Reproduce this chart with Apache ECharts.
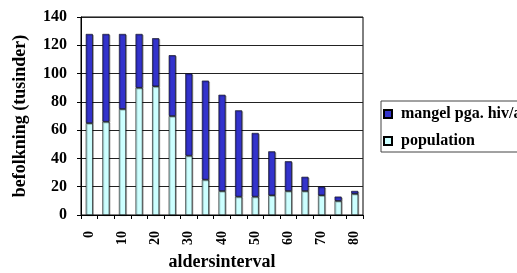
<!DOCTYPE html>
<html>
<head>
<meta charset="utf-8">
<script src="https://cdn.jsdelivr.net/npm/echarts@6/dist/echarts.min.js"></script>
<style>
  html, body { margin: 0; padding: 0; background: #fff; overflow: hidden; }
  /* wider than the window so the legend box runs off the right edge like in the original */
  #chart { width: 620px; height: 273px; }
</style>
</head>
<body>
<div id="chart"></div>
<script>
// aldersgrupper (5-aars intervaller)
const categories = ['0', '5', '10', '15', '20', '25', '30', '35', '40', '45', '50', '55', '60', '65', '70', '75', '80']
// nederste del af soejlen
const population = [65, 66, 75, 90, 91, 70, 42, 25, 17, 13, 13, 14, 17, 17, 14, 10, 15]
// oeverste del (mangel pga. hiv)
const mangel = [63, 62, 53, 38, 34, 43, 58, 70, 68, 61, 45, 31, 21, 10, 6, 3, 2]
const yTicks = [0, 20, 40, 60, 80, 100, 120, 140]

const font = 'Liberation Serif'
const chart = echarts.init(document.getElementById('chart'))

const option = {
  animation: false,
  textStyle: { fontFamily: font },
  grid: {
    left: 81,
    right: 620 - 363,
    top: 17,
    bottom: 58,
    outerBoundsMode: 'none',
    show: true,
    borderColor: '#000',
    borderWidth: 1
  },
  legend: {
    left: 381,
    top: 101,
    orient: 'vertical',
    itemWidth: 8,
    itemHeight: 8,
    itemGap: 11,
    padding: [5, 8, 3, 2],
    borderColor: '#444',
    borderWidth: 1,
    textStyle: { fontFamily: font, fontWeight: 'bold', fontSize: 16, color: '#000', padding: [0, 0, 0, 4] },
    data: [
      { name: 'mangel pga. hiv/aids', icon: 'rect' },
      { name: 'population', icon: 'rect' }
    ]
  },
  xAxis: {
    type: 'category',
    data: categories,
    name: 'aldersinterval',
    nameLocation: 'middle',
    nameGap: 38,
    nameTextStyle: { fontFamily: font, fontWeight: 'bold', fontSize: 18, color: '#000' },
    axisLine: { lineStyle: { color: '#000' } },
    axisTick: { show: true, interval: 0, length: 4, lineStyle: { color: '#000' } },
    axisLabel: {
      interval: 1,
      rotate: 90,
      margin: 16,
      fontFamily: font,
      fontWeight: 'bold',
      fontSize: 14,
      color: '#000'
    }
  },
  yAxis: {
    type: 'value',
    min: yTicks[0],
    max: yTicks[yTicks.length - 1],
    interval: 20,
    name: 'befolkning (tusinder)',
    nameLocation: 'middle',
    nameGap: 52,
    nameTextStyle: { fontFamily: font, fontWeight: 'bold', fontSize: 18, color: '#000' },
    axisLine: { show: true, lineStyle: { color: '#000' } },
    axisTick: { show: true, length: 4, lineStyle: { color: '#000' } },
    axisLabel: { margin: 14, fontFamily: font, fontWeight: 'bold', fontSize: 16, color: '#000' },
    splitLine: { lineStyle: { color: '#222', width: 1 } }
  },
  series: [
    {
      name: 'population',
      type: 'bar',
      stack: 'total',
      barWidth: 7,
      data: population,
      itemStyle: {
        color: '#CCFFFF',
        borderColor: '#000',
        borderWidth: 0.6,
        shadowColor: 'rgba(0,0,0,0.35)',
        shadowOffsetX: 1,
        shadowOffsetY: 1
      }
    },
    {
      name: 'mangel pga. hiv/aids',
      type: 'bar',
      stack: 'total',
      barWidth: 7,
      data: mangel,
      itemStyle: {
        color: '#3333CC',
        borderColor: '#000',
        borderWidth: 0.6,
        shadowColor: 'rgba(0,0,0,0.35)',
        shadowOffsetX: 1,
        shadowOffsetY: 1
      }
    }
  ]
}

chart.setOption(option)
</script>
</body>
</html>
